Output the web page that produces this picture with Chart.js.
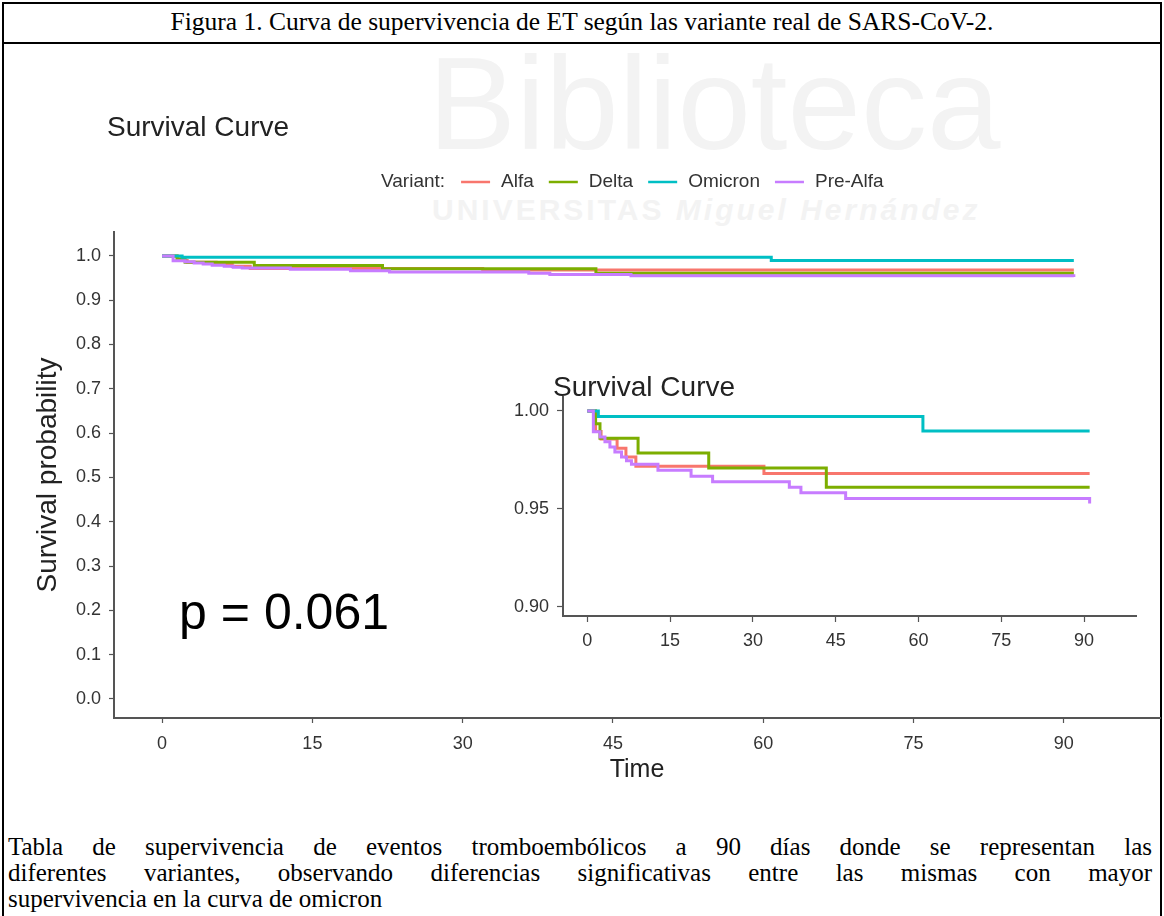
<!DOCTYPE html>
<html lang="es">
<head>
<meta charset="utf-8">
<title>Figura 1. Curva de supervivencia</title>
<script src="https://cdn.jsdelivr.net/npm/chart.js@4.4.1/dist/chart.umd.min.js"></script>
<style>
  body { margin: 0; background: #fff; }
  #page { position: relative; width: 1164px; height: 916px; overflow: hidden; background: #fff; }
  #frame { position: absolute; left: 2px; top: 2px; width: 1156px; height: 960px; border: 2px solid #000; border-bottom: none; }
  #head { position: absolute; left: 2px; top: 2px; width: 1160px; height: 40px; border-bottom: 2px solid #000;
          font: 25.5px "Liberation Serif", "Times New Roman", serif; text-align: center; line-height: 40px; color: #000; }
  .wm { position: absolute; color: #f3f3f3; font-family: "Liberation Sans", Arial, sans-serif; white-space: nowrap; }
  #mainChart { position: absolute; left: 0; top: 46px; }
  #insetChart { position: absolute; left: 480px; top: 360px; }
  #caption { position: absolute; left: 8px; top: 834px; width: 1144px;
             font: 25px "Liberation Serif", "Times New Roman", serif; line-height: 26px; color: #000; }
  #caption div { white-space: nowrap; }
  #caption .j { text-align: justify; text-align-last: justify; white-space: normal; }
</style>
</head>
<body>
<div id="page">
  <div id="frame"></div>
  <div id="head">Figura 1. Curva de supervivencia de ET según las variante real de SARS-CoV-2.</div>
  <div class="wm" style="left:428px;top:28px;font-size:132px;">Biblioteca</div>
  <div class="wm" style="left:432px;top:193px;font-size:30px;font-weight:bold;letter-spacing:3px;">UNIVERSITAS <i>Miguel Hernández</i></div>
  <canvas id="mainChart" width="1164" height="760"></canvas>
  <canvas id="insetChart" width="684" height="300"></canvas>
  <div id="caption">
    <div class="j">Tabla de supervivencia de eventos tromboembólicos a 90 días donde se representan las</div>
    <div class="j">diferentes variantes, observando diferencias significativas entre las mismas con mayor</div>
    <div>supervivencia en la curva de omicron</div>
  </div>
</div>
<script>
// Kaplan-Meier steps (time in days, survival probability)
const variants = ['Alfa', 'Delta', 'Omicron', 'Pre-Alfa'];
const variantColors = ['#F8766D', '#7CAE00', '#00BFC4', '#C77CFF'];

const alfaTime = [0, 1.5, 2.5, 5.4, 7, 8.8, 32, 91];
const alfaSurv = [1, 0.9895, 0.9857, 0.981, 0.9765, 0.9717, 0.968, 0.968];
const deltaTime = [0, 1.5, 2.3, 9.2, 22, 43.3, 91];
const deltaSurv = [1, 0.9935, 0.986, 0.9785, 0.9708, 0.961, 0.961];
const omicronTime = [0, 2, 60.8, 91];
const omicronSurv = [1, 0.9972, 0.9898, 0.9898];
const preAlfaTime = [0, 1.1, 2.3, 3.2, 4.1, 5, 6.2, 7.1, 8, 12.8, 18.8, 22.7, 36.6, 38.7, 46.8, 91];
const preAlfaSurv = [1, 0.9893, 0.9867, 0.9842, 0.9816, 0.979, 0.9765, 0.9745, 0.9728, 0.9697, 0.9667, 0.9638, 0.961, 0.9582, 0.9553, 0.9527];

const timeTicks = [0, 15, 30, 45, 60, 75, 90];
const mainSurvTicks = [0, 0.1, 0.2, 0.3, 0.4, 0.5, 0.6, 0.7, 0.8, 0.9, 1.0];
const insetSurvTicks = [0.90, 0.95, 1.00];

const pValueText = 'p = 0.061';

const FONT = '"Liberation Sans", Arial, sans-serif';
const TEXT = '#333';
const AXIS = '#555';

function buildDatasets(lineWidth) {
  const series = [
    [alfaTime, alfaSurv], [deltaTime, deltaSurv],
    [omicronTime, omicronSurv], [preAlfaTime, preAlfaSurv]
  ];
  return series.map(function (s, i) {
    return {
      label: variants[i],
      data: s[0].map(function (t, j) { return { x: t, y: s[1][j] }; }),
      borderColor: variantColors[i],
      backgroundColor: variantColors[i],
      borderWidth: lineWidth,
      pointRadius: 0,
      stepped: true,
      fill: false,
      order: variants.length - 1 - i
    };
  });
}

function axisScale(opts) {
  return {
    type: 'linear',
    min: opts.min,
    max: opts.max,
    afterFit: opts.fit,
    afterBuildTicks: function (s) { s.ticks = opts.ticks.map(function (v) { return { value: v }; }); },
    grid: { display: true, drawOnChartArea: false, drawTicks: true, tickLength: opts.tickLength, tickColor: AXIS, tickWidth: 1.2 },
    border: { display: true, color: AXIS, width: 2 },
    ticks: {
      autoSkip: false, maxRotation: 0, padding: opts.padding,
      color: TEXT, font: { family: FONT, size: 18 },
      callback: opts.format
    },
    title: opts.title || { display: false }
  };
}

// Chart title, legend and p-value drawn in the chart canvas
const overlayText = {
  id: 'overlayText',
  afterDraw: function (chart, args, o) {
    const ctx = chart.ctx;
    ctx.save();
    ctx.textBaseline = 'middle';
    ctx.textAlign = 'left';
    ctx.fillStyle = '#222';
    ctx.font = '28px ' + FONT;
    ctx.fillText('Survival Curve', o.titleX, o.titleY);

    if (o.legend) {
      let x = o.legendX;
      const y = o.legendY;
      ctx.font = '19px ' + FONT;
      ctx.fillStyle = TEXT;
      ctx.fillText('Variant:', x, y);
      x += ctx.measureText('Variant:').width + 16;
      chart.data.datasets.forEach(function (ds) {
        ctx.strokeStyle = ds.borderColor;
        ctx.lineWidth = 2.5;
        ctx.beginPath();
        ctx.moveTo(x, y);
        ctx.lineTo(x + 29, y);
        ctx.stroke();
        x += 40;
        ctx.fillText(ds.label, x, y);
        x += ctx.measureText(ds.label).width + 15;
      });
    }

    if (o.pValue) {
      ctx.fillStyle = '#000';
      ctx.font = '50px ' + FONT;
      ctx.fillText(pValueText, chart.scales.x.getPixelForValue(1.7), chart.scales.y.getPixelForValue(0.19));
    }
    ctx.restore();
  }
};

// Main plot
new Chart(document.getElementById('mainChart'), {
  type: 'line',
  data: { datasets: buildDatasets(3) },
  plugins: [overlayText],
  options: {
    responsive: false,
    animation: false,
    layout: { padding: { left: 0, top: 186, right: 4, bottom: 0 } },
    scales: {
      x: axisScale({
        min: -4.8, max: 99.6, ticks: timeTicks, tickLength: 5, padding: 10,
        fit: function (s) { s.height = 88; },
        format: function (v) { return String(v); },
        title: { display: true, text: 'Time', color: '#222', font: { family: FONT, size: 25 }, padding: { top: 0, bottom: 21 } }
      }),
      y: axisScale({
        min: -0.043, max: 1.054, ticks: mainSurvTicks, tickLength: 5, padding: 8,
        fit: function (s) { s.width = 114; },
        format: function (v) { return Number(v).toFixed(1); },
        title: { display: true, text: 'Survival probability', color: '#222', font: { family: FONT, size: 28 }, padding: { top: 31, bottom: 0 } }
      })
    },
    plugins: {
      legend: { display: false },
      tooltip: { enabled: false },
      overlayText: { titleX: 107, titleY: 82, legend: true, legendX: 381, legendY: 136, pValue: true }
    }
  }
});

// Inset zoom on the upper part of the curves
new Chart(document.getElementById('insetChart'), {
  type: 'line',
  data: { datasets: buildDatasets(3) },
  plugins: [overlayText],
  options: {
    responsive: false,
    animation: false,
    layout: { padding: { left: 0, top: 37, right: 28, bottom: 0 } },
    scales: {
      x: axisScale({
        min: -4.4, max: 99.4, ticks: timeTicks, tickLength: 6, padding: 8,
        fit: function (s) { s.height = 44; },
        format: function (v) { return String(v); }
      }),
      y: axisScale({
        min: 0.8953, max: 1.0071, ticks: insetSurvTicks, tickLength: 6, padding: 8,
        fit: function (s) { s.width = 83; },
        format: function (v) { return Number(v).toFixed(2); }
      })
    },
    plugins: {
      legend: { display: false },
      tooltip: { enabled: false },
      overlayText: { titleX: 73, titleY: 28, legend: false, pValue: false }
    }
  }
});
</script>
</body>
</html>
